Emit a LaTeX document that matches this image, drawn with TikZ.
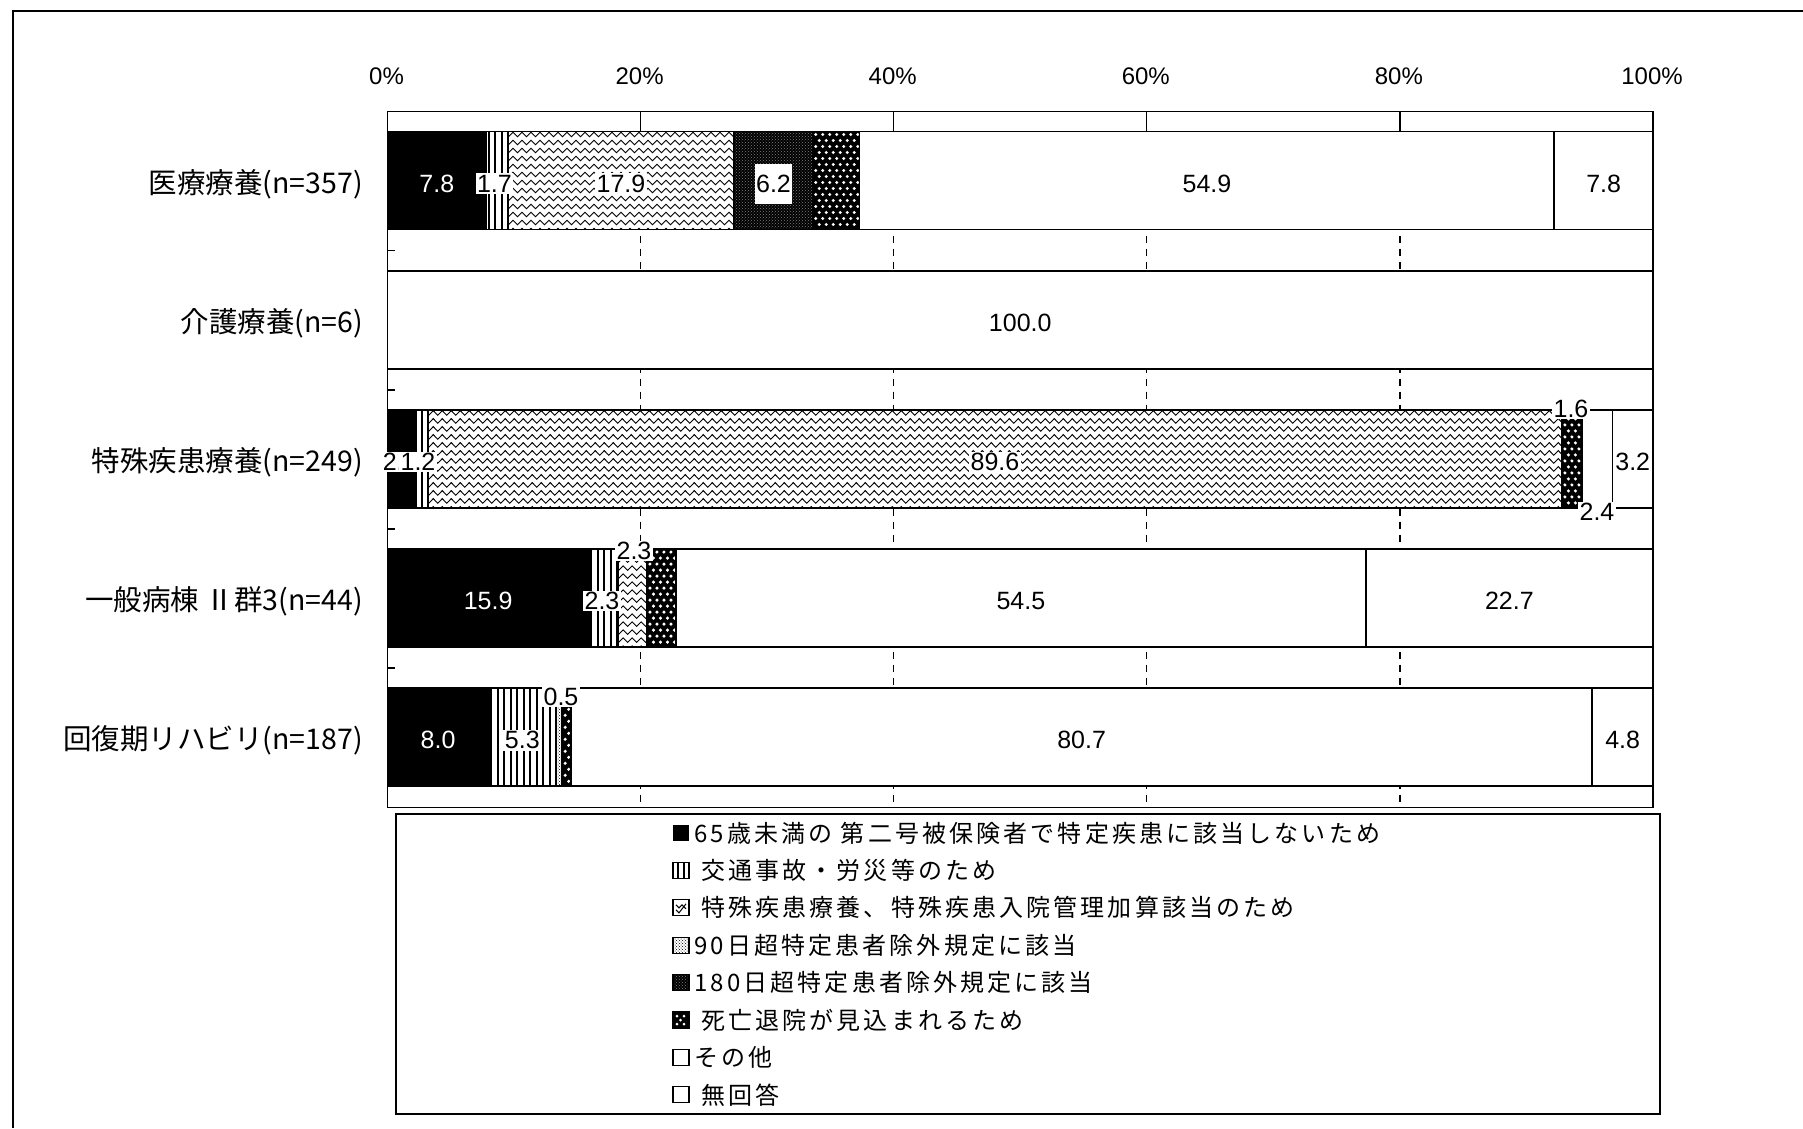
\documentclass[tikz,border=0pt]{standalone}
\usepackage{fontspec}
\setmainfont{Liberation Sans}
\newfontfamily\jp{Noto Sans CJK JP}
\newfontfamily\jpl[LetterSpace=13]{Noto Sans CJK JP}
\usetikzlibrary{patterns,decorations.pathmorphing}
\def\X#1{387.5+12.655*(#1)}
\tikzset{
 segb/.style={draw=black, line width=1.8},
 val/.style={font=\fontsize{25}{30}\selectfont, inner sep=1.5pt},
 valw/.style={val, fill=white},
 valinv/.style={val, text=white},
 axl/.style={font=\fontsize{24}{28}\selectfont},
 cat/.style={font=\jp\fontsize{28.5}{32}\selectfont, anchor=east, inner sep=0pt},
 leg/.style={font=\jpl\fontsize{24}{28}\selectfont, anchor=west, inner sep=0pt},
 icon/.style={draw=black, line width=1.2},
 gridl/.style={line width=1.3, dash pattern=on 7pt off 6pt},
}
% plain white segment
\newcommand\whseg[3]{\draw[segb, fill=white] ({\X{#1}},#3) rectangle ({\X{#2}},#3+98);}
% black segment
\newcommand\bkseg[3]{\draw[segb, fill=black] ({\X{#1}},#3) rectangle ({\X{#2}},#3+98);}
% vertical lines segment
\newcommand\vlseg[3]{%
 \pgfmathsetmacro\xa{\X{#1}}\pgfmathsetmacro\xb{\X{#2}}%
 \begin{scope}
  \clip (\xa,#3) rectangle (\xb,#3+98);
  \fill[white] (\xa,#3) rectangle (\xb,#3+98);
  \foreach \k in {0,...,12} \draw[line width=2.4] (\xa+2.5+6.5*\k,#3) -- ++(0,98);
 \end{scope}
 \draw[segb] (\xa,#3) rectangle (\xb,#3+98);}
% wavy segment
\newcommand\wvseg[3]{%
 \pgfmathsetmacro\xa{\X{#1}}\pgfmathsetmacro\xb{\X{#2}}%
 \begin{scope}
  \clip (\xa,#3) rectangle (\xb,#3+98);
  \fill[white] (\xa,#3) rectangle (\xb,#3+98);
  \foreach \r in {0,...,12} \draw[line width=0.9, decorate, decoration={zigzag,segment length=9,amplitude=2.3}] (\xa-6,#3+3+8*\r) -- (\xb+6,#3+3+8*\r);
 \end{scope}
 \draw[segb] (\xa,#3) rectangle (\xb,#3+98);}
% white dots on black
\newcommand\dtseg[3]{%
 \pgfmathsetmacro\xa{\X{#1}}\pgfmathsetmacro\xb{\X{#2}}%
 \begin{scope}
  \clip (\xa,#3) rectangle (\xb,#3+98);
  \fill[black] (\xa,#3) rectangle (\xb,#3+98);
  \foreach \i in {0,...,8}{\foreach \j in {0,...,8}{
    \fill[white] (\xa+3+7*\i,#3+3+12*\j) circle (1.7);
    \fill[white] (\xa+6.5+7*\i,#3+9+12*\j) circle (1.7);}}
 \end{scope}
 \draw[segb] (\xa,#3) rectangle (\xb,#3+98);}
% dark textured
\newcommand\dkseg[3]{%
 \fill[black] ({\X{#1}},#3) rectangle ({\X{#2}},#3+98);
 \fill[pattern=crosshatch dots, pattern color=gray] ({\X{#1}},#3) rectangle ({\X{#2}},#3+98);
 \draw[segb] ({\X{#1}},#3) rectangle ({\X{#2}},#3+98);}
% light dotted
\newcommand\ltseg[3]{%
 \fill[white] ({\X{#1}},#3) rectangle ({\X{#2}},#3+98);
 \fill[pattern=crosshatch dots, pattern color=black] ({\X{#1}},#3) rectangle ({\X{#2}},#3+98);
 \draw[segb] ({\X{#1}},#3) rectangle ({\X{#2}},#3+98);}
\begin{document}
\begin{tikzpicture}[x=1pt,y=-1pt]
\useasboundingbox (0,0) rectangle (1803,1128);
\fill[white] (0,0) rectangle (1803,1128);
% outer frame
\draw[line width=2] (1803,11) -- (12.5,11) -- (12.5,1128);
% axis labels
\foreach \p/\t [count=\n] in {0/0\%,20/20\%,40/40\%,60/60\%,80/80\%,100/100\%}
  \node[axl] (ax\n) at ({\X{\p}-1},76) {\t};
% gridlines
\foreach \p in {20,40,60,80}{
  \draw[line width=1.3] ({\X{\p}},111.4) -- ({\X{\p}},131.5);
  \draw[gridl] ({\X{\p}},131.5) -- ({\X{\p}},807.4);}
% plot border
\draw[line width=1.8] (387.5,111.4) rectangle (1653,807.4);
\foreach \y in {250.6,389.8,529,668.2} \draw[line width=1.5] (387.5,\y) -- (395,\y);
% row 1
\bkseg{0}{7.8}{131.5}
\vlseg{7.8}{9.5}{131.5}
\wvseg{9.5}{27.4}{131.5}
\dkseg{27.4}{33.6}{131.5}
\dtseg{33.6}{37.3}{131.5}
\whseg{37.3}{92.2}{131.5}
\whseg{92.2}{100}{131.5}
% row 2
\whseg{0}{100}{270.7}
% row 3
\bkseg{0}{2.0}{409.9}
\vlseg{2.0}{3.2}{409.9}
\wvseg{3.2}{92.8}{409.9}
\dtseg{92.8}{94.4}{409.9}
\whseg{94.4}{96.8}{409.9}
\whseg{96.8}{100}{409.9}
% row 4
\bkseg{0}{15.9}{549.1}
\vlseg{15.9}{18.2}{549.1}
\wvseg{18.2}{20.5}{549.1}
\dtseg{20.5}{22.8}{549.1}
\whseg{22.8}{77.3}{549.1}
\whseg{77.3}{100}{549.1}
% row 5
\bkseg{0}{8.0}{688.3}
\vlseg{8.0}{13.3}{688.3}
\ltseg{13.3}{13.8}{688.3}
\dtseg{13.8}{14.5}{688.3}
\whseg{14.5}{95.2}{688.3}
\whseg{95.2}{100}{688.3}
% category labels
\node[cat] (c1) at (363,184) {医療療養(n=357)};
\node[cat] (c2) at (363,323) {介護療養(n=6)};
\node[cat] (c3) at (363,462) {特殊疾患療養(n=249)};
\node[cat] (c4) at (363,601) {一般病棟 Ⅱ群3(n=44)};
\node[cat] (c5) at (363,740) {回復期リハビリ(n=187)};
% value labels row 1
\node[valinv] (a1) at ({\X{3.9}},183.5) {7.8};
\node[valw] (a2) at ({\X{8.45}},183.5) {1.7};
\node[valw] (a3) at ({\X{18.45}},183.5) {17.9};
\node[valw, minimum height=40] (a4) at ({\X{30.5}},183.5) {6.2};
\node[val] (a5) at ({\X{64.75}},183.5) {54.9};
\node[val] (a6) at ({\X{96.1}},183.5) {7.8};
% row 2
\node[val] (b1) at ({\X{50}},322.7) {100.0};
% row 3
\node[valw] (c31) at ({\X{1.0}},461.9) {2.0};
\node[valw] (c32) at (418,461.9) {1.2};
\node[valw] (c33) at ({\X{48}},461.9) {89.6};
\node[valw] (c34) at (1571,409) {1.6};
\node[valw] (c35) at (1597,512) {2.4};
\node[val] (c36) at ({\X{98.4}},461.9) {3.2};
% row 4
\node[valinv] (d1) at ({\X{7.95}},601.1) {15.9};
\node[valw] (d2) at (602,601.1) {2.3};
\node[valw] (d3) at (634,551) {2.3};
\node[val] (d4) at ({\X{50.05}},601.1) {54.5};
\node[val] (d5) at ({\X{88.65}},601.1) {22.7};
% row 5
\node[valinv] (e1) at ({\X{4.0}},740.3) {8.0};
\node[valw] (e2) at ({\X{10.65}},740.3) {5.3};
\node[valw] (e3) at (561,697) {0.5};
\node[val] (e4) at ({\X{54.85}},740.3) {80.7};
\node[val] (e5) at ({\X{97.6}},740.3) {4.8};
% legend
\draw[line width=1.6] (396,814) rectangle (1660,1114);
\def\ly#1{833+37.4*#1}
% icons
\fill[black] (673,{\ly{0}-8}) rectangle (689,{\ly{0}+8});
\draw[icon, fill=white] (673,{\ly{1}-8}) rectangle (689,{\ly{1}+8});
\draw[line width=2.4] (678,{\ly{1}-8}) -- (678,{\ly{1}+8}) (684,{\ly{1}-8}) -- (684,{\ly{1}+8});
\draw[icon, fill=white] (673,{\ly{2}-8}) rectangle (689,{\ly{2}+8});
\draw[line width=1] (676,{\ly{2}-3}) -- (679,{\ly{2}}) -- (682,{\ly{2}-3}) -- (686,{\ly{2}+1});
\draw[line width=1] (676,{\ly{2}+2}) -- (679,{\ly{2}+5}) -- (686,{\ly{2}-4});
\draw[icon, fill=white] (673,{\ly{3}-8}) rectangle (689,{\ly{3}+8});
\fill[pattern=crosshatch dots, pattern color=black] (673,{\ly{3}-8}) rectangle (689,{\ly{3}+8});
\fill[black] (673,{\ly{4}-8}) rectangle (689,{\ly{4}+8});
\fill[pattern=crosshatch dots, pattern color=gray] (673,{\ly{4}-8}) rectangle (689,{\ly{4}+8});
\draw[icon] (673,{\ly{4}-8}) rectangle (689,{\ly{4}+8});
\fill[black] (673,{\ly{5}-8}) rectangle (689,{\ly{5}+8});
\foreach \dx/\dy in {677/-4,684/-4,680.5/0,677/4,684/4}
  \fill[white] (\dx,{\ly{5}+\dy}) circle (1.5);
\draw[icon] (673,{\ly{5}-8}) rectangle (689,{\ly{5}+8});
\draw[icon, fill=white] (673,{\ly{6}-8}) rectangle (689,{\ly{6}+8});
\draw[icon, fill=white] (673,{\ly{7}-8}) rectangle (689,{\ly{7}+8});
% legend texts
\node[leg] (g1) at (694,{\ly{0}}) {65歳未満の 第二号被保険者で特定疾患に該当しないため};
\node[leg] (g2) at (701,{\ly{1}}) {交通事故・労災等のため};
\node[leg] (g3) at (701,{\ly{2}}) {特殊疾患療養、特殊疾患入院管理加算該当のため};
\node[leg] (g4) at (694,{\ly{3}}) {90日超特定患者除外規定に該当};
\node[leg] (g5) at (694,{\ly{4}}) {180日超特定患者除外規定に該当};
\node[leg] (g6) at (701,{\ly{5}}) {死亡退院が見込まれるため};
\node[leg] (g7) at (694,{\ly{6}}) {その他};
\node[leg] (g8) at (701,{\ly{7}}) {無回答};
\end{tikzpicture}
\end{document}
